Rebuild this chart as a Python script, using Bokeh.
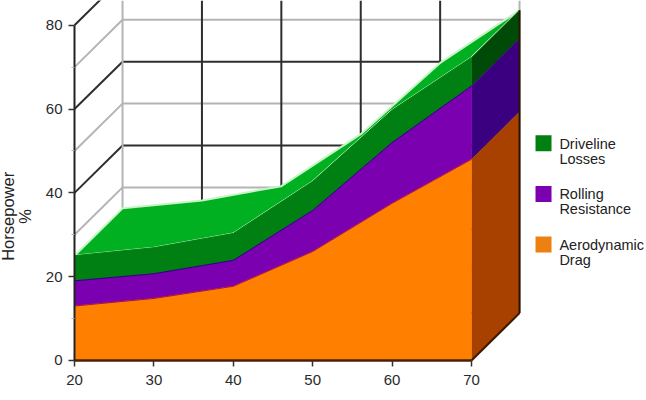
import math
from bokeh.plotting import figure
from bokeh.embed import file_html
from bokeh.resources import INLINE
from bokeh.models import FixedTicker, Range1d
from bokeh.core.properties import value

speed = [20, 30, 40, 50, 60, 70]
aero_top = [13.0, 14.8, 17.7, 26.0, 37.5, 48.0]
rolling_top = [19.0, 20.7, 23.9, 35.8, 52.0, 65.5]
driveline_top = [25.0, 26.9, 30.3, 42.7, 59.7, 72.3]
y_ticks = [0, 20, 40, 60, 80]
y_minor = [10, 30, 50, 70]
legend_labels = ["Driveline\nLosses", "Rolling\nResistance", "Aerodynamic\nDrag"]
legend_colors = ["#008012", "#7A00B0", "#EC8010"]
y_title = "Horsepower\n%"

DX, DY = 6.05, 11.3  # projected depth of the box, in data units
X0, X1, Y0, Y1 = 10.68, 92.04, -9.55, 85.9

p = figure(width=646, height=400, output_backend="svg", toolbar_location=None,
           x_range=Range1d(X0, X1), y_range=Range1d(Y0, Y1),
           min_border=0, outline_line_color=None, background_fill_color="white")
p.styles = {"position": "absolute", "left": "0px", "top": "0px"}
p.xgrid.visible = False
p.ygrid.visible = False

# walls: back verticals, back horizontals, floor/side diagonals
GRAY, DARK = "#b4b4b4", "#2e2e2e"
for v in y_ticks:
    p.line([20, 20 + DX], [v, v + DY], line_color=DARK, line_width=2)
    p.line([20 + DX, 70 + DX], [v + DY, v + DY], line_color=DARK, line_width=2)
for v in y_minor:
    p.line([20, 20 + DX], [v, v + DY], line_color=GRAY, line_width=2)
    p.line([20 + DX, 70 + DX], [v + DY, v + DY], line_color=GRAY, line_width=2)
for s in speed:
    c = GRAY if s in (20, 70) else DARK
    p.line([s + DX, s + DX], [DY, Y1], line_color=c, line_width=2)

# top surface of the stack
p.patch(speed + [s + DX for s in speed[::-1]],
        driveline_top + [v + DY for v in driveline_top[::-1]],
        fill_color="#00B020", line_color="#C8F5C8", line_width=2)


def layer(top, bottom, front, side, edge):
    p.patch([70, 70 + DX, 70 + DX, 70],
            [top[-1], top[-1] + DY, bottom[-1] + DY, bottom[-1]],
            fill_color=side, line_color=side, line_width=0.5)
    p.patch(speed + speed[::-1], top + bottom[::-1], fill_color=front,
            line_color=front, line_width=0.5)
    p.line(speed, top, line_color=edge, line_width=1)


zero = [0] * len(speed)
layer(driveline_top, rolling_top, "#008012", "#004A08", "#008012")
layer(rolling_top, aero_top, "#7A00B0", "#3A0080", "#200A70")
layer(aero_top, zero, "#FF8000", "#A84000", "#B01040")

# box edges
p.line([70, 70 + DX], [0, DY], line_color="#3A1A00", line_width=2)
p.line([70 + DX, 70 + DX], [DY, driveline_top[-1] + DY], line_color="#2A1400", line_width=2)

# axes, pinned inside the full-canvas frame
ax, ay = p.xaxis[0], p.yaxis[0]
ax.fixed_location = 0
ay.fixed_location = 20
ax.ticker = FixedTicker(ticks=speed)
ay.ticker = FixedTicker(ticks=y_ticks, minor_ticks=y_minor)
ax.bounds = (20, 70)
ay.bounds = (0, 80)
ax.axis_line_color = "#4A2000"
ay.axis_line_color = "#222222"
ax.axis_line_width = 2.5
ay.axis_line_width = 2
ax.major_tick_line_color = ay.major_tick_line_color = "#333333"
ax.major_tick_line_width = ay.major_tick_line_width = 1.5
ax.major_tick_out = ay.major_tick_out = 6
ax.major_tick_in = ay.major_tick_in = 0
ax.minor_tick_line_color = None
ay.minor_tick_line_color = "#b0b0b0"
ay.minor_tick_in = 0
ay.minor_tick_out = 3
ax.major_label_text_font = ay.major_label_text_font = "Liberation Sans"
ax.major_label_text_font_size = ay.major_label_text_font_size = "15px"
ax.major_label_text_color = ay.major_label_text_color = "#2a2a2a"
ax.major_label_standoff = 9
ay.major_label_standoff = 6

# y title sits low in the reference, so it is placed rather than centred on the frame
p.text([12.7], [34.4], text=[y_title], angle=math.pi / 2, text_font=value("Liberation Sans"),
       text_font_size="16.5px", text_color="#222222", text_align="center",
       text_baseline="middle", text_line_height=0.95)

# legend, placed from the same scales
LX, LY, STEP = 79.07, 49.95, -12.1
ys = [LY + i * STEP for i in range(3)]
p.scatter([LX] * 3, [v + 1.9 for v in ys], marker="square", size=16,
          fill_color=legend_colors, line_color=None)
p.text([LX + 2.0] * 3, ys, text=legend_labels, text_font=value("Liberation Sans"),
       text_font_size="14.5px", text_color="#222222", text_align="left",
       text_baseline="middle", text_line_height=0.95)

open("out.html", "w").write(file_html(p, INLINE))
